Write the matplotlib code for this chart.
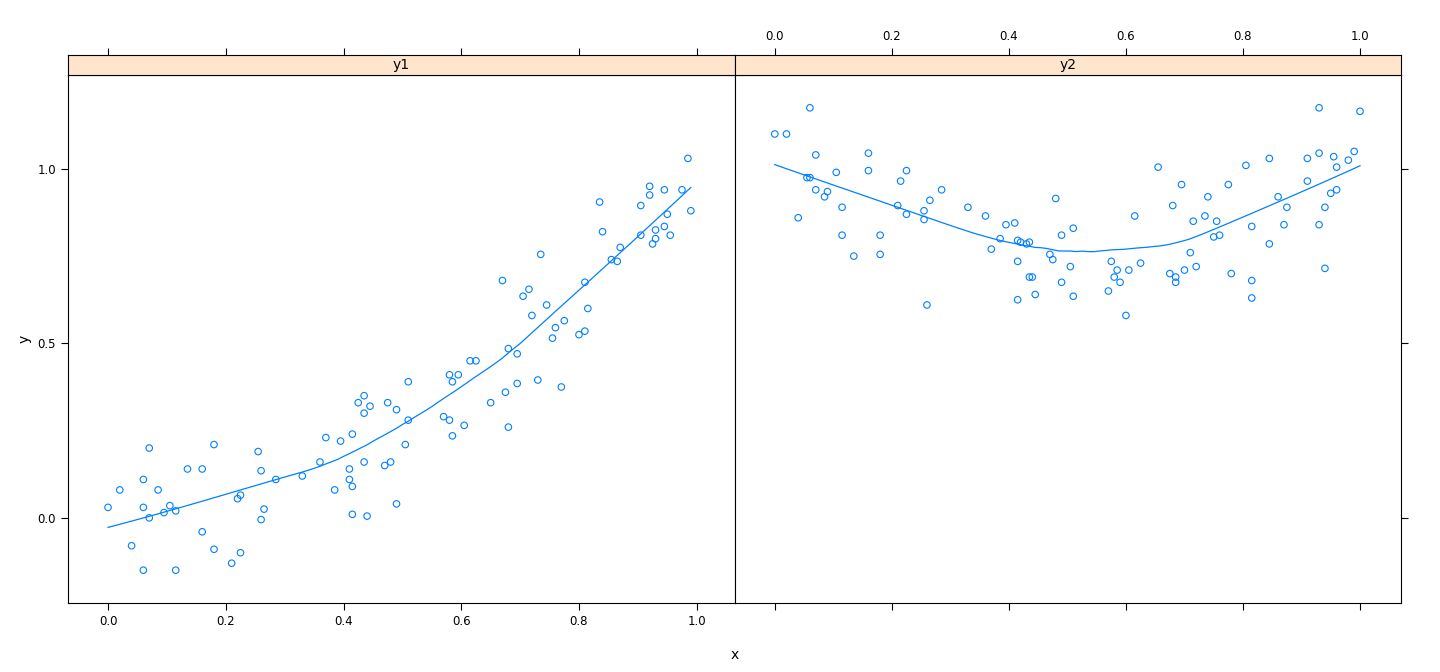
import numpy as np
import matplotlib
matplotlib.use("Agg")
import matplotlib.pyplot as plt

x1 = [0.00,0.02,0.04,0.06,0.06,0.06,0.07,0.07,0.085,0.095,0.105,0.115,0.115,0.135,0.16,0.16,0.18,0.18,0.21,0.22,0.225,0.225,0.255,0.26,0.26,0.265,0.285,0.33,0.36,0.37,0.385,0.395,0.41,0.415,0.41,0.415,0.415,0.425,0.435,0.435,0.435,0.44,0.445,0.47,0.475,0.48,0.49,0.49,0.505,0.51,0.51,0.57,0.58,0.58,0.585,0.585,0.595,0.605,0.615,0.625,0.65,0.67,0.675,0.68,0.68,0.695,0.695,0.705,0.715,0.72,0.73,0.735,0.745,0.755,0.76,0.775,0.77,0.80,0.81,0.815,0.81,0.835,0.84,0.855,0.865,0.87,0.905,0.905,0.92,0.92,0.925,0.93,0.93,0.945,0.945,0.95,0.955,0.975,0.985,0.99]
y1 = [0.03,0.08,-0.08,0.03,0.11,-0.15,0.20,0.00,0.08,0.015,0.035,0.02,-0.15,0.14,0.14,-0.04,0.21,-0.09,-0.13,0.055,0.065,-0.10,0.19,0.135,-0.005,0.025,0.11,0.12,0.16,0.23,0.08,0.22,0.14,0.24,0.11,0.09,0.01,0.33,0.35,0.30,0.16,0.005,0.32,0.15,0.33,0.16,0.31,0.04,0.21,0.39,0.28,0.29,0.41,0.28,0.235,0.39,0.41,0.265,0.45,0.45,0.33,0.68,0.36,0.485,0.26,0.47,0.385,0.635,0.655,0.58,0.395,0.755,0.61,0.515,0.545,0.565,0.375,0.525,0.535,0.60,0.675,0.905,0.82,0.74,0.735,0.775,0.81,0.895,0.95,0.925,0.785,0.825,0.80,0.835,0.94,0.87,0.81,0.94,1.03,0.88]
x2 = [0.00,0.02,0.04,0.055,0.06,0.06,0.07,0.07,0.085,0.09,0.105,0.115,0.115,0.135,0.16,0.16,0.18,0.18,0.21,0.215,0.225,0.225,0.255,0.255,0.265,0.26,0.285,0.33,0.36,0.37,0.385,0.395,0.41,0.415,0.415,0.42,0.415,0.43,0.435,0.44,0.445,0.435,0.47,0.475,0.48,0.49,0.49,0.51,0.505,0.51,0.57,0.575,0.58,0.585,0.59,0.6,0.605,0.615,0.625,0.655,0.675,0.68,0.685,0.685,0.695,0.70,0.71,0.715,0.72,0.735,0.74,0.75,0.755,0.76,0.775,0.78,0.805,0.815,0.815,0.815,0.845,0.845,0.86,0.87,0.875,0.91,0.91,0.93,0.93,0.93,0.94,0.94,0.955,0.96,0.95,0.96,0.98,0.99,1.00]
y2 = [1.10,1.10,0.86,0.975,1.175,0.975,1.04,0.94,0.92,0.935,0.99,0.81,0.89,0.75,0.995,1.045,0.81,0.755,0.895,0.965,0.995,0.87,0.88,0.855,0.91,0.61,0.94,0.89,0.865,0.77,0.80,0.84,0.845,0.795,0.735,0.79,0.625,0.785,0.69,0.69,0.64,0.79,0.755,0.74,0.915,0.81,0.675,0.83,0.72,0.635,0.65,0.735,0.69,0.71,0.675,0.58,0.71,0.865,0.73,1.005,0.70,0.895,0.675,0.69,0.955,0.71,0.76,0.85,0.72,0.865,0.92,0.805,0.85,0.81,0.955,0.70,1.01,0.835,0.68,0.63,1.03,0.785,0.92,0.84,0.89,1.03,0.965,0.84,1.045,1.175,0.89,0.715,1.035,0.94,0.93,1.005,1.025,1.05,1.165]
panels = ["y1", "y2"]

def loess(x, y, span=2/3, n=100):
    x = np.asarray(x); y = np.asarray(y)
    k = int(np.ceil(span * len(x)))
    xs = np.linspace(x.min(), x.max(), n)
    out = []
    for x0 in xs:
        d = np.abs(x - x0)
        h = np.sort(d)[k - 1]
        w = np.clip(1 - (d / h) ** 3, 0, None) ** 3
        W = np.sqrt(w)
        A = np.vstack([np.ones_like(x), x - x0]).T
        beta = np.linalg.lstsq(A * W[:, None], y * W, rcond=None)[0]
        out.append(beta[0])
    return xs, np.array(out)

col = "#0080ff"
fmt = matplotlib.ticker.FormatStrFormatter("%.1f")
fig = plt.figure(figsize=(14.4, 6.72), dpi=100)
L, R = 68/1440, 1401/1440
mid = 735/1440
bot, top = (672-603)/672, (672-75)/672
stripH = 20/672
data = [(x1, y1), (x2, y2)]
for i, (xx, yy) in enumerate(data):
    left = L if i == 0 else mid
    w = (mid - L) if i == 0 else (R - mid)
    xlim = (-0.068, 1.065 if i == 0 else 1.07)
    ax = fig.add_axes([left, bot, w, top - bot])
    ax.scatter(xx, yy, s=22, facecolors="none", edgecolors=col, linewidths=0.8)
    sx, sy = loess(xx, yy)
    ax.plot(sx, sy, color=col, lw=0.9)
    ax.set_xlim(*xlim)
    ax.set_ylim(-0.244, 1.269)
    ax.set_xticks([0, 0.2, 0.4, 0.6, 0.8, 1.0])
    ax.set_yticks([0, 0.5, 1.0])
    ax.xaxis.set_major_formatter(fmt)
    ax.yaxis.set_major_formatter(fmt)
    ax.tick_params(direction="out", length=5, labelsize=8.5, top=False, labeltop=False,
                   bottom=True, labelbottom=(i == 0))
    if i == 0:
        ax.tick_params(axis="y", left=True, labelleft=True, right=False)
        ax.set_ylabel("y", fontsize=10)
    else:
        ax.tick_params(axis="y", left=False, labelleft=False, right=True, labelright=False)
    for s in ax.spines.values():
        s.set_linewidth(0.8)
    sa = fig.add_axes([left, top, w, stripH])
    sa.set_facecolor("#ffe5cc")
    sa.set_xticks([]); sa.set_yticks([])
    sa.text(0.5, 0.5, panels[i], ha="center", va="center", fontsize=10, transform=sa.transAxes)
    for s in sa.spines.values():
        s.set_linewidth(0.8)
    ta = fig.add_axes([left, top + stripH, w, 0.0001], frameon=False)
    ta.set_xlim(*xlim); ta.set_yticks([])
    ta.set_xticks([0, 0.2, 0.4, 0.6, 0.8, 1.0])
    ta.xaxis.set_major_formatter(fmt)
    ta.tick_params(axis="x", direction="out", length=5, bottom=False, labelbottom=False,
                   top=True, labeltop=(i == 1), labelsize=8.5)
fig.text((L + R) / 2, 0.02, "x", ha="center", fontsize=10)
fig.savefig("out.png", dpi=100)
